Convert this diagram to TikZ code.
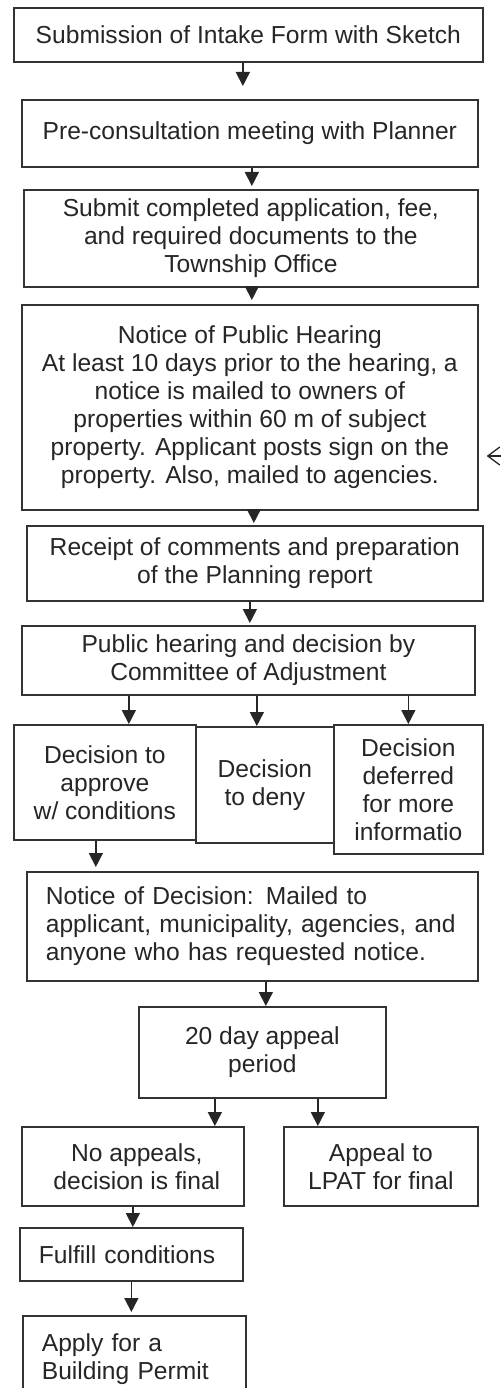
\documentclass[tikz,border=0pt]{standalone}
\usepackage{fontspec}
\setmainfont{Liberation Sans}
\usetikzlibrary{arrows.meta}

\begin{document}
\begin{tikzpicture}[
    x=1pt, y=-1pt,
    box/.style={rectangle, draw=black!80, line width=1.7pt, anchor=north west,
                align=center, inner sep=1pt, text=black!85,
                font=\fontsize{24.6}{28}\selectfont},
    lbox/.style={box, align=left, inner xsep=19pt},
    line/.style={draw=black!85, line width=1.6pt, -{Triangle[length=14pt,width=14pt]}},
    back/.style={draw=black!85, line width=1.3pt, -{Straight Barb[length=12pt,width=18pt]}}
]
    \useasboundingbox (0,0) rectangle (501,1388);
    \fill[white] (0,0) rectangle (501,1388);
    \clip (0,0) rectangle (501,1388);

    % main steps
    \node [box, minimum width=469pt, minimum height=54pt] (intake) at (13,7)
        {Submission of Intake Form with Sketch};
    \node [box, minimum width=456pt, minimum height=67pt] (precon) at (21,99)
        {Pre-consultation meeting with Planner};
    \node [box, minimum width=454pt, minimum height=97pt] (submit) at (23,189)
        {Submit completed application, fee,\\ and required documents to the\\ Township Office};
    \node [box, minimum width=456pt, minimum height=205pt] (notice) at (21,304)
        {Notice of Public Hearing\\ At least 10 days prior to the hearing, a\\ notice is mailed to owners of\\
         properties within 60 m of subject\\ property. Applicant posts sign on the\\ property. Also, mailed to agencies.};
    \node [box, minimum width=456pt, minimum height=75pt] (report) at (26,525)
        {Receipt of comments and preparation\\ of the Planning report};
    \node [box, minimum width=453pt, minimum height=69pt] (hearing) at (21,625)
        {Public hearing and decision by\\ Committee of Adjustment};

    % decisions
    \node [box, minimum width=182pt, minimum height=115pt] (approve) at (13,724)
        {Decision to\\ approve\\ w/ conditions};
    \node [box, minimum width=138pt, minimum height=116pt] (deny) at (195,726)
        {Decision\\ to deny};
    \node [box, minimum width=149pt, minimum height=129pt] (defer) at (333,724)
        {Decision\\ deferred\\ for more\\ informatio};

    \node [lbox, text width=413pt, minimum height=109pt] (decnote) at (26,871)
        {Notice of Decision: Mailed to\\ applicant, municipality, agencies, and\\ anyone who has requested notice.};
    \node [box, minimum width=247pt, minimum height=91pt] (appeal) at (138,1006)
        {20 day appeal\\ period};

    % appeal outcomes
    \node [box, minimum width=222pt, minimum height=79pt] (final) at (21,1126)
        {\hspace*{8pt}No appeals,\\ \hspace*{8pt}decision is final};
    \node [box, minimum width=194pt, minimum height=79pt] (lpat) at (283,1126)
        {Appeal to\\ LPAT for final};
    \node [lbox, text width=185pt, minimum height=53pt] (fulfill) at (19,1227)
        {Fulfill conditions};
    \node [lbox, text width=185pt, minimum height=86pt] (permit) at (22,1315)
        {Apply for a\\ Building Permit};

    % connectors
    \path [line, shorten >=13pt] ([xshift=-5.5pt]intake.south) -- ([xshift=-5.5pt]intake.south |- precon.north);
    \path [line, shorten >=3pt] ([xshift=2pt]precon.south) -- ([xshift=2pt]precon.south |- submit.north);
    \path [line, shorten >=4pt] ([xshift=1pt]submit.south) -- ([xshift=1pt]submit.south |- notice.north);
    \path [line, shorten >=2pt] ([xshift=4pt]notice.south) -- ([xshift=4pt]notice.south |- report.north);
    \path [line, shorten >=2pt] ([xshift=-5pt]report.south) -- ([xshift=-5pt]report.south |- hearing.north);

    \path [line] ([xshift=24pt]approve.north |- hearing.south) -- ([xshift=24pt]approve.north);
    \path [line] ([xshift=-8pt]deny.north |- hearing.south) -- ([xshift=-8pt]deny.north);
    \path [line] (defer.north |- hearing.south) -- (defer.north);

    \path [line, shorten >=4pt] ([xshift=-9pt]approve.south) -- ([xshift=-9pt]approve.south |- decnote.north);
    \path [line] ([xshift=3.5pt]appeal.north |- decnote.south) -- ([xshift=3.5pt]appeal.north);
    \path [line] ([xshift=-47.5pt]appeal.south) -- ([xshift=-47.5pt]appeal.south |- final.north);
    \path [line] ([xshift=55.5pt]appeal.south) -- ([xshift=55.5pt]appeal.south |- lpat.north);
    \path [line] (final.south) -- (final.south |- fulfill.north);
    \path [line, shorten >=3pt] (fulfill.south) -- (fulfill.south |- permit.north);

    % return line into the hearing notice
    \coordinate (ret) at (501,456);
    \path [back, shorten >=8pt] (ret) -- (notice.east |- ret);
\end{tikzpicture}
\end{document}
